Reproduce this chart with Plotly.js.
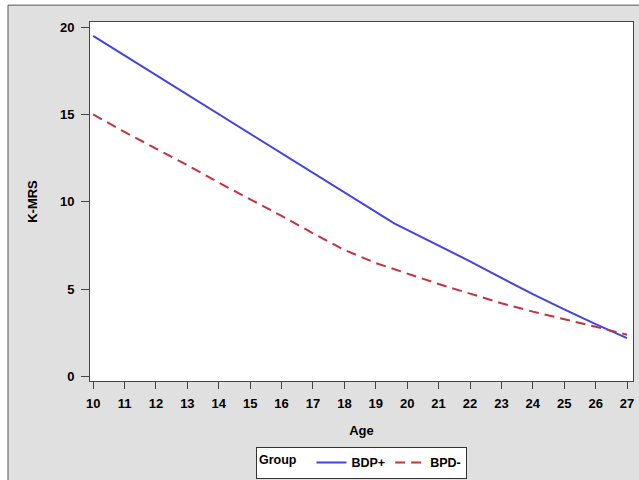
<!DOCTYPE html>
<html>
<head>
<meta charset="utf-8">
<script src="https://cdn.plot.ly/plotly-3.0.1.min.js"></script>
<style>html,body{margin:0;padding:0;background:#fff;}#chart{width:639px;height:480px;}</style>
</head>
<body>
<div id="chart"></div>
<script>
const ageBDP = [10, 11, 12, 13, 14, 15, 16, 17, 18, 19, 19.6, 20, 21, 22, 23, 24, 25, 26, 27];
const kmrsBDP = [19.5, 18.38, 17.26, 16.14, 15.02, 13.9, 12.78, 11.66, 10.54, 9.42, 8.75, 8.4, 7.5, 6.6, 5.65, 4.72, 3.85, 3.0, 2.2];
const ageBPD = [10, 11, 12, 13, 14, 15, 16, 17, 18, 19, 20, 21, 22, 23, 24, 25, 26, 27];
const kmrsBPD = [15.0, 14.0, 13.05, 12.1, 11.1, 10.15, 9.2, 8.2, 7.25, 6.5, 5.9, 5.3, 4.75, 4.2, 3.72, 3.3, 2.85, 2.4];
const seriesNames = ['BDP+', 'BPD-'];
const xTicks = [10, 11, 12, 13, 14, 15, 16, 17, 18, 19, 20, 21, 22, 23, 24, 25, 26, 27];
const yTicks = [0, 5, 10, 15, 20];

const boldFont = {family: 'Liberation Sans, Arial, sans-serif', size: 13, color: '#000', weight: 'bold'};
const legendFont = {family: 'Liberation Sans, Arial, sans-serif', size: 12.5, color: '#000', weight: 'bold'};

const traces = [
  {x: ageBDP, y: kmrsBDP, name: seriesNames[0], type: 'scatter', mode: 'lines',
   line: {color: '#4242e6', width: 2}},
  {x: ageBPD, y: kmrsBPD, name: seriesNames[1], type: 'scatter', mode: 'lines',
   line: {color: '#c4323f', width: 2, dash: '10px,6px'}}
];

const layout = {
  width: 639, height: 480,
  margin: {l: 90, r: 6, t: 22, b: 99, pad: 0, autoexpand: false},
  paper_bgcolor: '#e0e0e0',
  plot_bgcolor: '#ffffff',
  showlegend: true,
  xaxis: {
    range: [9.9, 27.19], tickvals: xTicks, ticktext: xTicks.map(String),
    ticks: 'outside', ticklen: 7, tickcolor: '#444', tickwidth: 1,
    showline: true, mirror: true, linecolor: '#444', linewidth: 1,
    showgrid: false, zeroline: false, tickfont: boldFont, ticklabelstandoff: 3,
    title: {text: 'Age', font: boldFont, standoff: 16}
  },
  yaxis: {
    range: [-0.25, 20.29], tickvals: yTicks, ticktext: yTicks.map(String),
    ticks: 'outside', ticklen: 8, tickcolor: '#444', tickwidth: 1,
    showline: true, mirror: true, linecolor: '#444', linewidth: 1,
    showgrid: false, zeroline: false, tickfont: boldFont, ticklabelstandoff: 4,
    title: {text: 'K-MRS', font: boldFont, standoff: 19}
  },
  legend: {
    orientation: 'h', x: 0.5, xanchor: 'center', y: 0.069, yref: 'container', yanchor: 'top',
    bgcolor: '#ffffff', bordercolor: '#333', borderwidth: 1,
    font: legendFont, title: {text: 'Group  ', font: legendFont, side: 'left'},
    itemwidth: 30, tracegroupgap: 0, valign: 'middle'
  },
  shapes: [
    {type: 'rect', xref: 'paper', yref: 'paper', x0: -0.2, x1: -0.151, y0: -0.4, y1: 1.2,
     fillcolor: '#ffffff', line: {width: 0}, layer: 'below'},
    {type: 'rect', xref: 'paper', yref: 'paper', x0: -0.2, x1: 1.2, y0: 1.047, y1: 1.2,
     fillcolor: '#ffffff', line: {width: 0}, layer: 'below'},
    {type: 'line', xref: 'paper', yref: 'paper', x0: -0.151, x1: -0.151, y0: -0.4, y1: 1.047,
     line: {color: '#555', width: 1}, layer: 'below'},
    {type: 'line', xref: 'paper', yref: 'paper', x0: -0.151, x1: 1.2, y0: 1.047, y1: 1.047,
     line: {color: '#555', width: 1}, layer: 'below'}
  ],
  annotations: [
    {xref: 'paper', yref: 'paper', x: -0.095, y: 1.085, xanchor: 'left', yanchor: 'bottom',
     text: '<b>g</b>', showarrow: false,
     font: {family: 'Liberation Serif, serif', size: 22, color: '#000'}}
  ]
};

Plotly.newPlot('chart', traces, layout, {displayModeBar: false, staticPlot: true});
</script>
</body>
</html>
